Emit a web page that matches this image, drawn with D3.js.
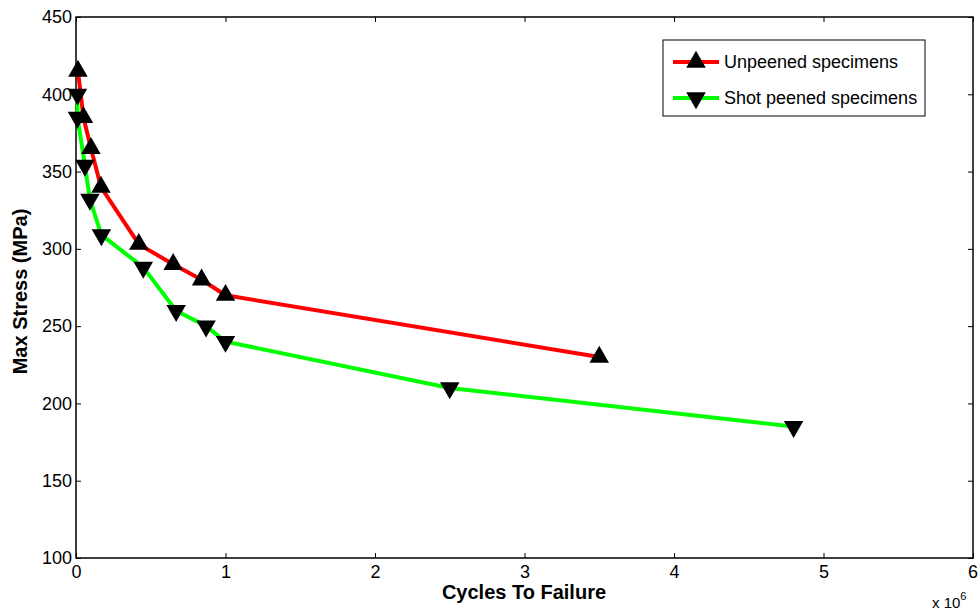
<!DOCTYPE html>
<html>
<head>
<meta charset="utf-8">
<script src="https://cdn.jsdelivr.net/npm/d3@7"></script>
<style>
  body { margin: 0; background: #fff; }
  text { font-family: "Liberation Sans", Arial, sans-serif; }
</style>
</head>
<body>
<div id="chart"></div>
<script>
// data (cycles in units of 1e6)
var seriesNames = ["Unpeened specimens", "Shot peened specimens"];
var unpeenedCycles = [0.013, 0.05, 0.1, 0.167, 0.42, 0.65, 0.84, 1.0, 3.5];
var unpeenedStress = [415, 385, 365, 340, 303, 290, 280, 270, 230];
var peenedCycles = [0.01, 0.01, 0.06, 0.093, 0.17, 0.45, 0.67, 0.87, 1.0, 2.5, 4.8];
var peenedStress = [400, 385, 354, 332, 309, 288, 260, 250, 240, 210, 185];
var xTicks = [0, 1, 2, 3, 4, 5, 6];
var yTicks = [100, 150, 200, 250, 300, 350, 400, 450];

var width = 978, height = 613;
var margin = {top: 17, right: 5, bottom: 55, left: 76};

var svg = d3.select("#chart").append("svg")
  .attr("width", width)
  .attr("height", height);

var x = d3.scaleLinear().domain([0, 6]).range([margin.left, width - margin.right]);
var y = d3.scaleLinear().domain([100, 450]).range([height - margin.bottom, margin.top]);

// box
svg.append("rect")
  .attr("x", x(0)).attr("y", y(450))
  .attr("width", x(6) - x(0)).attr("height", y(100) - y(450))
  .attr("fill", "none").attr("stroke", "#000").attr("stroke-width", 1.5);

// axes with inward ticks
var xAxis = svg.append("g")
  .attr("transform", "translate(0," + y(100) + ")")
  .call(d3.axisBottom(x).tickValues(xTicks).tickSizeInner(-5).tickSizeOuter(0).tickPadding(7).tickFormat(d3.format("d")));
var xTop = svg.append("g")
  .attr("transform", "translate(0," + y(450) + ")")
  .call(d3.axisTop(x).tickValues(xTicks).tickSizeInner(-5).tickSizeOuter(0).tickFormat(""));
var yAxis = svg.append("g")
  .attr("transform", "translate(" + x(0) + ",0)")
  .call(d3.axisLeft(y).tickValues(yTicks).tickSizeInner(-5).tickSizeOuter(0).tickPadding(4));
var yRight = svg.append("g")
  .attr("transform", "translate(" + x(6) + ",0)")
  .call(d3.axisRight(y).tickValues(yTicks).tickSizeInner(-5).tickSizeOuter(0).tickFormat(""));

[xAxis, xTop, yAxis, yRight].forEach(function(g) {
  g.select(".domain").remove();
  g.selectAll("line").attr("stroke", "#000");
  g.selectAll("text").style("font-size", "18px").attr("fill", "#000")
    .style("font-family", "'Liberation Sans', Arial, sans-serif");
});
// keep the last x label inside the page
xAxis.selectAll("text").filter(function(d) { return d === 6; })
  .attr("text-anchor", "end").attr("dx", "0.25em");

// axis labels
svg.append("text")
  .attr("x", 524).attr("y", 599)
  .attr("text-anchor", "middle")
  .style("font-size", "20px").style("font-weight", "bold")
  .text("Cycles To Failure");

svg.append("text")
  .attr("transform", "translate(27," + ((y(100) + y(450)) / 2 + 4) + ") rotate(-90)")
  .attr("text-anchor", "middle")
  .style("font-size", "20px").style("font-weight", "bold")
  .text("Max Stress (MPa)");

var expo = svg.append("text")
  .attr("x", 932).attr("y", 608)
  .style("font-size", "15px");
expo.append("tspan").text("x 10");
expo.append("tspan").attr("dy", -8).style("font-size", "11px").text("6");

// lines + markers
var tri = d3.symbol().type(d3.symbolTriangle).size(165);
var line = d3.line().x(function(d) { return x(d[0]); }).y(function(d) { return y(d[1]); });

var series = [
  {name: seriesNames[0], color: "#ff0000", down: false,
   pts: d3.zip(unpeenedCycles, unpeenedStress)},
  {name: seriesNames[1], color: "#00ff00", down: true,
   pts: d3.zip(peenedCycles, peenedStress)}
];

// draw green first then red on top
[series[1], series[0]].forEach(function(s) {
  svg.append("path")
    .attr("d", line(s.pts))
    .attr("fill", "none")
    .attr("stroke", s.color)
    .attr("stroke-width", 4)
    .attr("stroke-linejoin", "round");
});
[series[1], series[0]].forEach(function(s) {
  svg.selectAll(null)
    .data(s.pts)
    .enter()
    .append("path")
    .attr("d", tri)
    .attr("transform", function(d) {
      return "translate(" + x(d[0]) + "," + y(d[1]) + ")" + (s.down ? " rotate(180)" : "");
    })
    .attr("fill", "#000");
});

// legend
var lg = svg.append("g");
lg.append("rect")
  .attr("x", 663).attr("y", 40).attr("width", 262).attr("height", 76)
  .attr("fill", "#fff").attr("stroke", "#000").attr("stroke-width", 1);

series.forEach(function(s, i) {
  var ly = 62 + i * 36;
  lg.append("line")
    .attr("x1", 673).attr("x2", 719).attr("y1", ly).attr("y2", ly)
    .attr("stroke", s.color).attr("stroke-width", 4);
  lg.append("path")
    .attr("d", tri)
    .attr("transform", "translate(696," + ly + ")" + (s.down ? " rotate(180)" : ""))
    .attr("fill", "#000");
  lg.append("text")
    .attr("x", 724).attr("y", ly + 6)
    .style("font-size", "18px")
    .text(s.name);
});
</script>
</body>
</html>
